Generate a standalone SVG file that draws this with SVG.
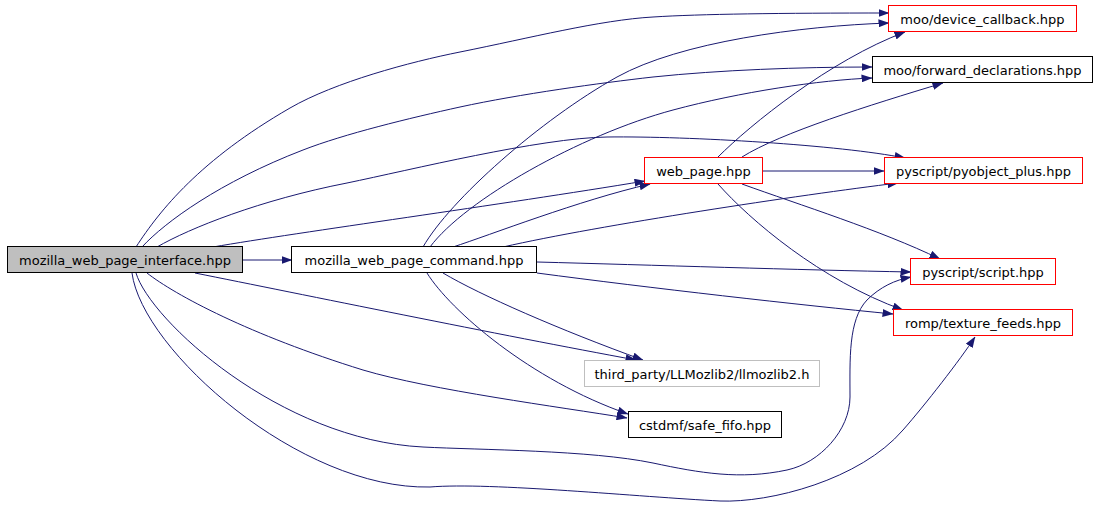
<svg xmlns="http://www.w3.org/2000/svg" width="1098" height="528" viewBox="0 0 1098 528">
<style>
.n rect{fill:#fff;stroke:#000;stroke-width:1}
.n text{font-family:"DejaVu Sans",sans-serif;font-size:13px;fill:#000;text-anchor:middle}
.red rect{stroke:#ff0000}
.grey rect{stroke:#bfbfbf}
.root rect{fill:#bfbfbf}
#edges path{fill:none;stroke:#191970;stroke-width:1;marker-end:url(#ah)}
</style>
<defs>
<marker id="ah" viewBox="0 0 11 8" refX="10.5" refY="4" markerWidth="11" markerHeight="8" markerUnits="userSpaceOnUse" orient="auto">
<path d="M0,0 L11,4 L0,8 z" fill="#191970" stroke="none"/>
</marker>
</defs>
<rect width="1098" height="528" fill="#fff"/>
<g id="edges">
<path d="M243,260 L292,260"/>
<path d="M136,247 C160,210 200,160 290,108 C335,82 410,62 460,52 C530,38 600,20 653,17 C700,14 780,13 889,13"/>
<path d="M142,247 C165,222 220,182 303,150 C344,134 410,118 460,107 C520,94 600,83 653,77 C720,70 800,67 872,67"/>
<path d="M157,247 C190,228 260,200 347,183 C410,170 540,138 607,137 C690,136 840,145 905,158"/>
<path d="M213,247 C300,232 500,205 645,181"/>
<path d="M195,273 C300,294 500,335 636,360"/>
<path d="M147,273 C175,295 250,335 363,370 C430,390 560,407 627,418"/>
<path d="M136,273 C150,320 280,440 423,447 C480,450 590,450 653,463 C700,473 740,480 787,470 C820,463 850,430 850,397 C850,360 848,320 867,300 C880,287 895,280 911,277"/>
<path d="M132,273 C142,350 300,490 430,487 C490,482 640,497 720,501 C770,503 860,480 903,430 C925,405 960,360 975,337"/>
<path d="M423,247 C450,200 540,120 617,77 C680,42 800,26 889,23"/>
<path d="M430,247 C465,200 580,135 673,110 C740,92 820,80 872,78"/>
<path d="M453,247 C490,235 580,200 650,184"/>
<path d="M503,247 C600,225 800,195 898,183"/>
<path d="M537,262 C650,265 800,270 911,272"/>
<path d="M537,273 C650,288 800,305 893,314"/>
<path d="M443,273 C480,295 560,330 643,360"/>
<path d="M427,273 C450,310 530,380 628,414"/>
<path d="M718,157 C750,125 830,60 905,32"/>
<path d="M742,157 C780,133 870,105 943,83"/>
<path d="M763,171 L884,171"/>
<path d="M742,184 C800,205 880,230 940,259"/>
<path d="M718,184 C750,220 820,280 903,310"/>
</g>
<g id="node_interface" class="n root"><rect x="7.5" y="246.5" width="235" height="26"/><text x="125" y="265">mozilla_web_page_interface.hpp</text></g>
<g id="node_command" class="n"><rect x="291.5" y="246.5" width="245" height="26"/><text x="414" y="265">mozilla_web_page_command.hpp</text></g>
<g id="node_device_callback" class="n red"><rect x="888.5" y="5.5" width="188" height="26"/><text x="982.5" y="23.5">moo/device_callback.hpp</text></g>
<g id="node_forward_declarations" class="n"><rect x="872.5" y="56.5" width="220" height="26"/><text x="982.5" y="74.5">moo/forward_declarations.hpp</text></g>
<g id="node_web_page" class="n red"><rect x="644.5" y="157.5" width="118" height="26"/><text x="703.5" y="175.5">web_page.hpp</text></g>
<g id="node_pyobject_plus" class="n red"><rect x="884.5" y="157.5" width="198" height="26"/><text x="983.5" y="175.5">pyscript/pyobject_plus.hpp</text></g>
<g id="node_script" class="n red"><rect x="910.5" y="258.5" width="145" height="26"/><text x="983" y="276.5">pyscript/script.hpp</text></g>
<g id="node_texture_feeds" class="n red"><rect x="893.5" y="309.5" width="179" height="26"/><text x="983" y="327.5">romp/texture_feeds.hpp</text></g>
<g id="node_llmozlib2" class="n grey"><rect x="584.5" y="360.5" width="235" height="26"/><text x="702" y="378.5">third_party/LLMozlib2/llmozlib2.h</text></g>
<g id="node_safe_fifo" class="n"><rect x="628.5" y="411.5" width="153" height="26"/><text x="705" y="429.5">cstdmf/safe_fifo.hpp</text></g>
</svg>
